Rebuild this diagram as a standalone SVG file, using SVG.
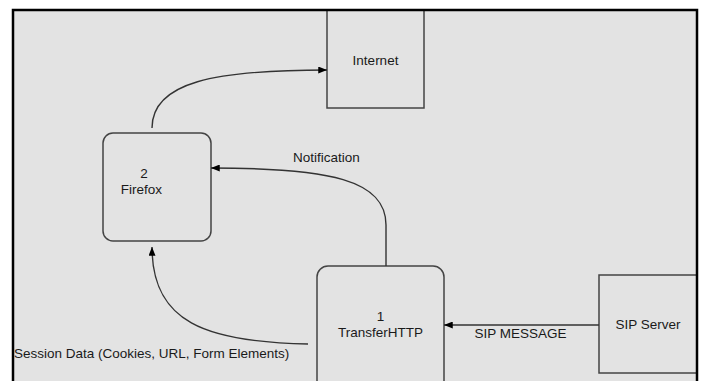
<svg xmlns="http://www.w3.org/2000/svg" width="701" height="381" viewBox="0 0 701 381">
<style>
.box{fill:#e3e3e3;stroke:#444;stroke-width:1.5}
.lbl{font-family:"Liberation Sans",Arial,sans-serif;font-size:13.5px;fill:#1a1a1a}
.c{text-anchor:middle}
.edge{fill:none;stroke:#333;stroke-width:1.4}
</style>
<defs>
<marker id="arr" viewBox="0 0 10 8" refX="10" refY="4" markerWidth="10" markerHeight="7" markerUnits="userSpaceOnUse" orient="auto">
<path d="M0,0 L10,4 L0,8 Z" fill="#000"/>
</marker>
</defs>
<rect x="0" y="0" width="701" height="381" fill="#fff"/>
<rect x="13" y="10" width="684" height="380" fill="#e3e3e3" stroke="none"/>
<g id="internet">
<rect class="box" x="327" y="10" width="97" height="98"/>
<text class="lbl c" x="375.5" y="65">Internet</text>
</g>
<g id="firefox">
<rect class="box" x="103" y="133" width="108" height="108" rx="10" ry="10"/>
<text class="lbl c" x="144" y="178">2</text>
<text class="lbl c" x="141.5" y="194">Firefox</text>
</g>
<g id="transferhttp">
<rect class="box" x="317" y="266" width="127" height="130" rx="11" ry="11"/>
<text class="lbl c" x="380.5" y="321">1</text>
<text class="lbl c" x="380.5" y="337">TransferHTTP</text>
</g>
<g id="sipserver">
<rect class="box" x="599" y="275" width="98" height="98"/>
<text class="lbl c" x="648" y="329">SIP Server</text>
</g>
<g id="connectors">
<path class="edge" marker-end="url(#arr)" d="M152,128 C152,82 215,70 327,70"/>
<path class="edge" marker-end="url(#arr)" d="M386,266 L386,225 C386,180 330,168 211,168"/>
<path class="edge" marker-end="url(#arr)" d="M308,344 C205,342 152,322 152,247"/>
<path class="edge" marker-end="url(#arr)" d="M599,325 L444,325"/>
<text class="lbl" x="293" y="162">Notification</text>
<text class="lbl" x="14" y="358">Session Data (Cookies, URL, Form Elements)</text>
<text class="lbl c" x="520.5" y="338">SIP MESSAGE</text>
</g>
<rect x="13" y="10" width="684" height="380" fill="none" stroke="#000" stroke-width="2.5"/>
</svg>
